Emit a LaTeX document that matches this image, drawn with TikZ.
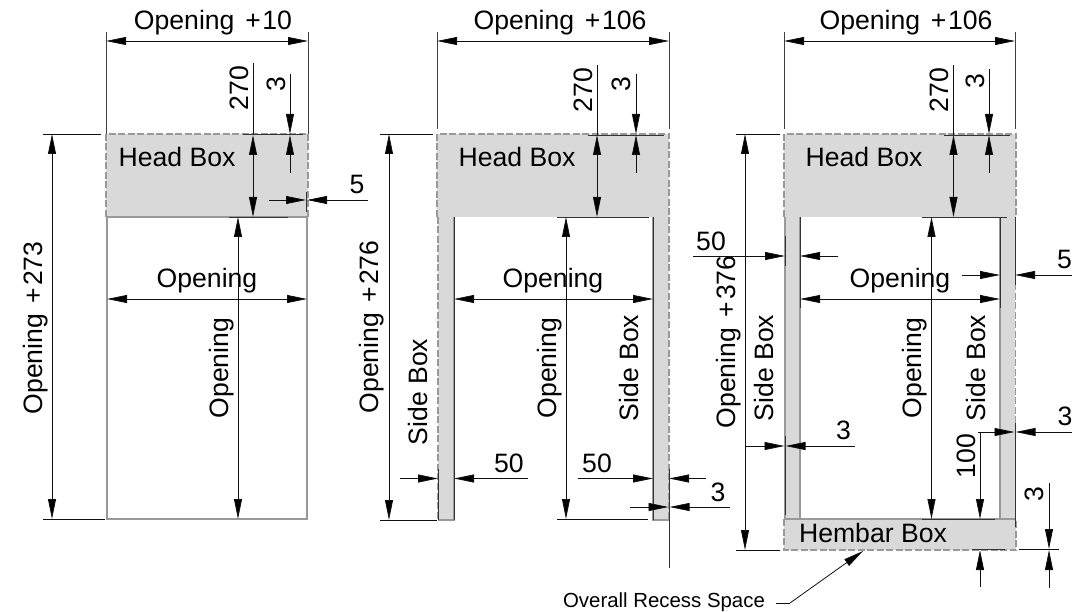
\documentclass[tikz,border=0pt]{standalone}
\usepackage{fontspec}
\setmainfont{Liberation Sans}
\usetikzlibrary{arrows.meta}
\definecolor{boxfill}{HTML}{D9D9D9}
\definecolor{boxedge}{HTML}{999999}
\definecolor{dimline}{HTML}{111111}
\tikzset{
  lbl/.style={inner sep=0pt,anchor=base,font=\fontsize{26.6}{28}\selectfont,text=black},
  lblv/.style={lbl,rotate=90},
  small/.style={inner sep=0pt,anchor=base,font=\fontsize{20.4}{22}\selectfont,text=black},
  ln/.style={draw=dimline,line width=0.8pt},
  ext/.style={draw=black!75,line width=0.9pt},
  edge/.style={draw=boxedge,line width=1.1pt},
  dashedge/.style={draw=boxedge,line width=1.1pt,dash pattern=on 7pt off 2.5pt},
  tick/.style={draw=black!80,line width=0.9pt},
  onearrow/.style={ln,-{Stealth[inset=0pt,length=20pt,width=8pt,fill=black]}},
  revarrow/.style={ln,{Stealth[inset=0pt,length=20pt,width=8pt,fill=black]}-},
  twoarrow/.style={ln,{Stealth[inset=0pt,length=20pt,width=8pt,fill=black]}-{Stealth[inset=0pt,length=20pt,width=8pt,fill=black]}},
}
\newcommand\optxt[1]{Opening\kern3.5pt\ +\kern1.5pt #1}
\begin{document}
\begin{tikzpicture}[x=1pt,y=-1pt]
\useasboundingbox (0,0) rectangle (1072,612);
\clip (0,0) rectangle (1072,612);
\fill[white] (0,0) rectangle (1072,612);

% ---------- Panel 1 ----------
\fill[boxfill] (106,134) rectangle (308,217);
\draw[dashedge] (106,217) -- (106,134) -- (308,134) -- (308,217);
\draw[edge] (106,217) -- (308,217);
\draw[edge] (107,217) -- (107,519) -- (307,519) -- (307,217);
\draw[ext] (106,32) -- (106,134);
\draw[ext] (308,32) -- (308,134);
\draw[twoarrow] (106,41) -- (308,41);
\node[lbl] (t1) at (213,30) {\optxt{10}};
\draw[ln] (43,134) -- (101,134);
\draw[ln] (43,519) -- (105,519);
\draw[twoarrow] (52,134) -- (52,519);
\node[lblv] (l1) at (42,328) {\optxt{273}};
\draw[ln] (253,63) -- (253,135);
\draw[twoarrow] (253,135) -- (253,217);
\node[lblv] (a1) at (248,88) {270};
\draw[revarrow] (290,134) -- (290,74);
\draw[onearrow] (290,173) -- (290,135);
\node[lblv] (b1) at (285,84) {3};
\draw[tick] (243,134.5) -- (303,134.5);
\draw[tick] (229,217) -- (288,217);
\node[lbl] (h1) at (177,167) {Head Box};
\draw[revarrow] (306,200) -- (269,200);
\draw[onearrow] (368,200) -- (307,200);
\draw[tick] (306.5,192) -- (306.5,212);
\node[lbl] (c1) at (357,194) {5};
\draw[twoarrow] (107,299) -- (307,299);
\node[lbl] (o1) at (207,288) {Opening};
\draw[twoarrow] (238,217) -- (238,519);
\node[lblv] (v1) at (228,368) {Opening};

% ---------- Panel 2 ----------
\fill[boxfill] (437,134) rectangle (669,217);
\fill[boxfill] (438,217) rectangle (454,520);
\fill[boxfill] (653,217) rectangle (669,520);
\draw[dashedge] (437,217) -- (437,134) -- (669,134) -- (669,217);
\draw[dashedge] (438,217) -- (438,520);
\draw[dashedge] (669,217) -- (669,520);
\draw[edge] (438,520) -- (454,520) -- (454,217);
\draw[edge] (653,217) -- (653,520) -- (669,520);
\draw[ext] (437,32) -- (437,129);
\draw[ext] (669,32) -- (669,129);
\draw[twoarrow] (437,41) -- (669,41);
\node[lbl] (t2) at (560,30) {\optxt{106}};
\draw[ln] (380,134) -- (433,134);
\draw[ln] (380,520) -- (437,520);
\draw[twoarrow] (389,134) -- (389,520);
\node[lblv] (l2) at (378,327) {\optxt{276}};
\draw[ln] (597,65) -- (597,135);
\draw[twoarrow] (597,135) -- (597,217);
\node[lblv] (a2) at (592,90) {270};
\draw[revarrow] (636,134) -- (636,74);
\draw[onearrow] (636,173) -- (636,135);
\node[lblv] (b2) at (630,84) {3};
\draw[tick] (588,135) -- (664,135);
\draw[tick] (557,217) -- (649,217);
\node[lbl] (h2) at (517,167) {Head Box};
\draw[twoarrow] (454,299) -- (653,299);
\node[lbl] (o2) at (553,288) {Opening};
\draw[twoarrow] (566,217) -- (566,519);
\draw[ln] (557,519) -- (648,519);
\node[lblv] (v2) at (556,368) {Opening};
\node[lblv] (s2a) at (427,392) {Side Box};
\node[lblv] (s2b) at (638,368) {Side Box};
\draw[tick] (454,217) -- (454,520);
\draw[tick] (653,217) -- (653,520);
\draw[tick] (438,469) -- (438,520);
\draw[revarrow] (438,478.5) -- (400,478.5);
\draw[onearrow] (528,478.5) -- (454,478.5);
\node[lbl] (d2a) at (509,473) {50};
\draw[revarrow] (653,478.5) -- (578,478.5);
\draw[onearrow] (706,478.5) -- (669,478.5);
\node[lbl] (d2b) at (597,473) {50};
\draw[tick] (669,469) -- (669,568);
\draw[revarrow] (668.5,507) -- (630,507);
\draw[onearrow] (730,507) -- (669.5,507);
\node[lbl] (e2) at (718,501) {3};

% ---------- Panel 3 ----------
\fill[boxfill] (784,134) rectangle (1016,217);
\fill[boxfill] (785,217) rectangle (800,519);
\fill[boxfill] (1000,217) rectangle (1015,519);
\fill[boxfill] (784,519) rectangle (1016,550);
\draw[dashedge] (784,217) -- (784,134) -- (1016,134) -- (1016,217);
\draw[edge] (785,217) -- (785,519);
\draw[edge] (800,217) -- (800,519);
\draw[edge] (1000,217) -- (1000,519);
\draw[dashedge] (1015.5,217) -- (1015.5,519);
\draw[edge] (784,519) -- (1016,519);
\draw[dashedge] (784,519) -- (784,550) -- (1016,550) -- (1016,519);
\draw[ext] (784,32) -- (784,129);
\draw[ext] (1015,32) -- (1015,129);
\draw[twoarrow] (784,41) -- (1015,41);
\node[lbl] (t3) at (906,30) {\optxt{106}};
\draw[ln] (736,134) -- (780,134);
\draw[ln] (736,550) -- (780,550);
\draw[twoarrow] (745,134) -- (745,550);
\node[lblv] (l3) at (735,342) {\optxt{376}};
\draw[ln] (953.5,65) -- (953.5,135);
\draw[twoarrow] (953.5,135) -- (953.5,217);
\node[lblv] (a3) at (948,90) {270};
\draw[revarrow] (989,134) -- (989,69);
\draw[onearrow] (989,173) -- (989,135);
\node[lblv] (b3) at (984,81) {3};
\draw[tick] (944,135) -- (1010,135);
\draw[tick] (922,217) -- (1007,217);
\node[lbl] (h3) at (864,167) {Head Box};
\draw[twoarrow] (800,299) -- (1000,299);
\node[lbl] (o3) at (900,288) {Opening};
\draw[twoarrow] (931.5,217) -- (931.5,519);
\draw[tick] (922,519) -- (995,519);
\node[lblv] (v3) at (921,368) {Opening};
\node[lblv] (s3a) at (773,368) {Side Box};
\node[lblv] (s3b) at (985,368) {Side Box};
\draw[tick] (785,236) -- (785,266);
\draw[tick] (800,217) -- (800,308);
\draw[tick] (1000,217) -- (1000,308);
\draw[tick] (1015,217) -- (1015,285);
\draw[revarrow] (785,256) -- (693,256);
\draw[onearrow] (838,256) -- (800,256);
\node[lbl] (d3a) at (711,251) {50};
\draw[revarrow] (1000,275) -- (962,275);
\draw[onearrow] (1072,275) -- (1015,275);
\node[lbl] (d3b) at (1072,269) {50};
\draw[tick] (785,436) -- (785,515);
\draw[revarrow] (784.5,446) -- (746,446);
\draw[onearrow] (855,446) -- (785.5,446);
\node[lbl] (e3a) at (843.5,439) {3};
\draw[tick] (1015,423) -- (1015,527);
\draw[revarrow] (1014.5,432) -- (978,432);
\draw[onearrow] (1072,432) -- (1015.5,432);
\node[lbl] (e3b) at (1065,426) {3};
\draw[revarrow] (980,519) -- (980,432);
\draw[onearrow] (980,587) -- (980,550);
\node[lblv] (g3) at (975,456) {100};
\draw[tick] (972,549.5) -- (1005,549.5);
\draw[revarrow] (1049,549) -- (1049,483);
\draw[onearrow] (1049,588) -- (1049,550);
\draw[ln] (1019,549.5) -- (1059,549.5);
\node[lblv] (f3) at (1043,494) {3};
\node[lbl] (hb) at (873,542.5) {Hembar Box};
\node[small] (recess) at (664,607) {Overall Recess Space};
\coordinate (knee) at (790,603);
\coordinate (tip) at (863,551);
\draw[ln] (776,603) -- (knee);
\draw[onearrow] (knee) -- (tip);
\end{tikzpicture}
\end{document}
